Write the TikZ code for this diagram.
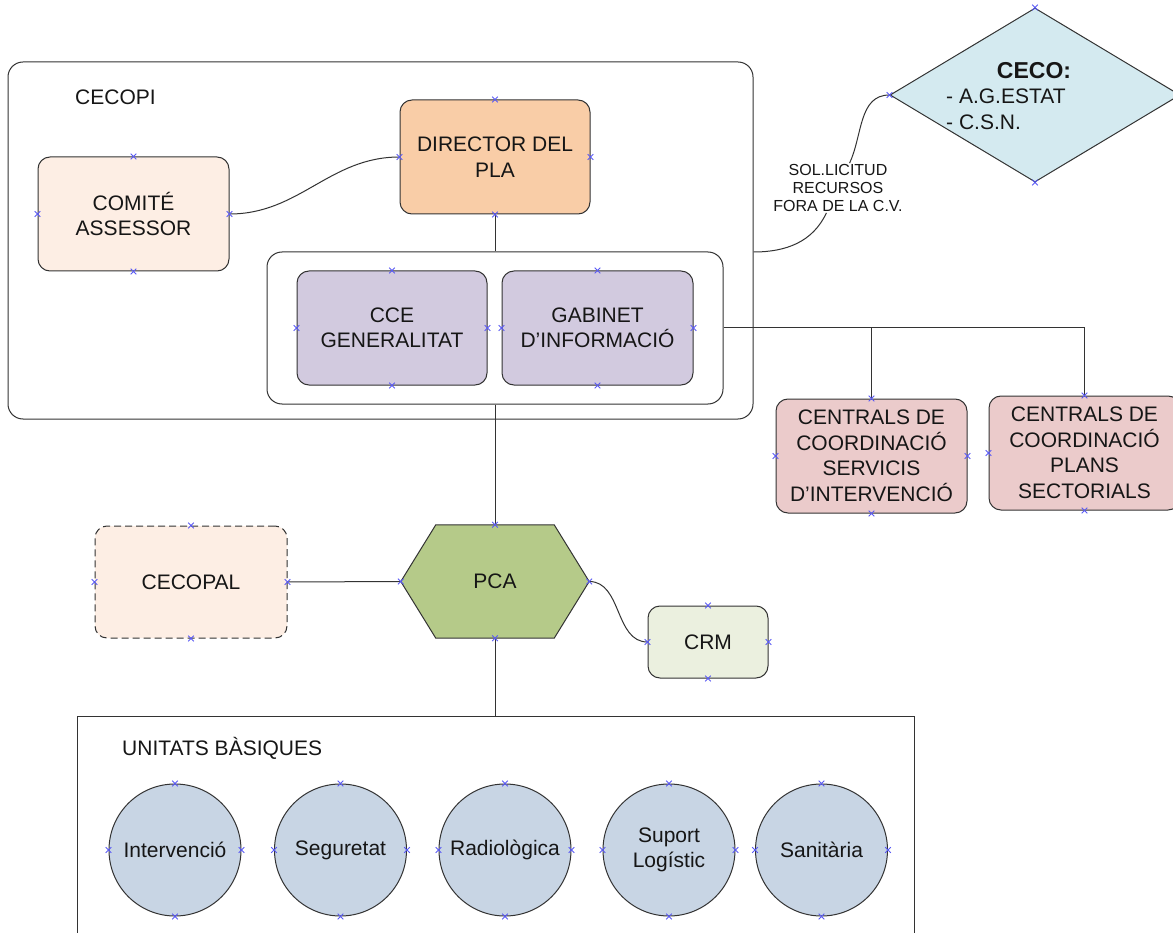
\documentclass[tikz,border=0pt]{standalone}
\usepackage{fontspec}
\setmainfont{Liberation Sans}
\usetikzlibrary{shapes.geometric}
\definecolor{lc}{HTML}{333333}
\definecolor{tc}{HTML}{161616}
\definecolor{xc}{HTML}{5A5AF5}
\definecolor{comfill}{HTML}{FDEEE4}
\definecolor{dirfill}{HTML}{F9CDA7}
\definecolor{lavfill}{HTML}{D2CADF}
\definecolor{redfill}{HTML}{EBCBCB}
\definecolor{cecofill}{HTML}{D4EAF0}
\definecolor{pcafill}{HTML}{B5CA89}
\definecolor{crmfill}{HTML}{EBF0DF}
\definecolor{circfill}{HTML}{C8D5E4}
\tikzset{
  base/.style={draw=lc, line width=1pt, text=tc, font=\fontsize{21}{25.5}\selectfont, align=center, inner sep=0pt},
  rbox/.style={base, rectangle, rounded corners=12pt},
  txt/.style={text=tc, font=\fontsize{21}{25.5}\selectfont, inner sep=0pt},
  smalllbl/.style={text=tc, font=\fontsize{16}{18}\selectfont, align=center, fill=white, inner sep=1pt},
  unit/.style={base, circle, fill=circfill, minimum size=132pt},
  conn/.style={draw=lc, line width=1pt},
  xmark/.style={draw=xc, line width=0.9pt},
}
\newcommand{\xmk}[1]{\draw[xmark] (#1) +(-2.8,-2.8) -- +(2.8,2.8) +(-2.8,2.8) -- +(2.8,-2.8);}
\newcommand{\xmks}[1]{\xmk{#1.north}\xmk{#1.south}\xmk{#1.east}\xmk{#1.west}}
\begin{document}
\begin{tikzpicture}[x=1pt,y=-1pt]
\clip (0,0) rectangle (1173,933);
\fill[white] (0,0) rectangle (1173,933);

% CECOPI
\node[base, rounded corners=15pt, minimum width=745pt, minimum height=357pt] (cecopi) at (380.5,240.5) {};
\node[txt, anchor=west] (cecopilbl) at (75,97) {CECOPI};
\node[rbox, fill=comfill, minimum width=191pt, minimum height=114pt] (comite) at (133.5,214) {COMITÉ\\ASSESSOR};
\node[rbox, fill=dirfill, minimum width=190pt, minimum height=114pt] (director) at (495,157) {DIRECTOR DEL\\PLA};
\node[base, rounded corners=15pt, minimum width=456pt, minimum height=152pt] (group) at (495,328) {};
\node[rbox, fill=lavfill, minimum width=190pt, minimum height=114pt] (cce) at (392,328) {CCE\\GENERALITAT};
\node[rbox, fill=lavfill, minimum width=191pt, minimum height=114pt] (gabinet) at (597.5,328) {GABINET\\D’INFORMACIÓ};

% centrals
\node[rbox, fill=redfill, minimum width=191pt, minimum height=114pt] (cent1) at (871.5,456) {CENTRALS DE\\COORDINACIÓ\\SERVICIS\\D’INTERVENCIÓ};
\node[rbox, fill=redfill, minimum width=191pt, minimum height=114pt] (cent2) at (1084.5,453) {CENTRALS DE\\COORDINACIÓ\\PLANS\\SECTORIALS};

% CECO
\node[base, diamond, fill=cecofill, minimum width=290pt, minimum height=174pt] (ceco) at (1035,95) {};
\node[txt, font=\bfseries\fontsize{23}{26}\selectfont] (cecotitle) at (1034,71) {CECO:};
\node[txt, anchor=west, align=left, font=\fontsize{21}{26}\selectfont] (cecolist) at (946,109) {- A.G.ESTAT\\- C.S.N.};

% SOL.LICITUD label
\node[smalllbl] (sollbl) at (838,188) {SOL.LICITUD\\RECURSOS\\FORA DE LA C.V.};

% PCA row
\node[rbox, fill=comfill, dashed, dash pattern=on 7pt off 4pt, minimum width=192pt, minimum height=112pt] (cecopal) at (191,582) {CECOPAL};
\node[txt, minimum width=188pt, minimum height=113pt] (pca) at (495,581.5) {};
\draw[conn, fill=pcafill] (pca.west) -- ([xshift=35pt]pca.north west) -- ([xshift=-35pt]pca.north east) -- (pca.east) -- ([xshift=-35pt]pca.south east) -- ([xshift=35pt]pca.south west) -- cycle;
\node[txt] (pcatxt) at (pca.center) {PCA};
\node[rbox, fill=crmfill, minimum width=120pt, minimum height=72pt] (crm) at (708,642) {CRM};

% UNITATS
\node[base, minimum width=837pt, minimum height=224pt] (unitats) at (495.5,828) {};
\node[txt, anchor=west] (unitatslbl) at (122,748) {UNITATS BÀSIQUES};
\node[unit] (u1) at (175,850) {Intervenció};
\node[unit] (u2) at (340.5,850) {Seguretat};
\node[unit] (u3) at (505,850) {Radiològica};
\node[unit] (u4) at (669,850) {Suport\\Logístic};
\node[unit] (u5) at (821.5,850) {Sanitària};

% connectors
\draw[conn] (comite.east) to[out=0,in=180] (director.west);
\draw[conn] (director.south) -- (group.north);
\draw[conn] (group.east) -- (cent2.north |- group.east) -- (cent2.north);
\draw[conn] (cent1.north |- group.east) -- (cent1.north);
\draw[conn] ([yshift=-11.5pt]cecopi.east) to[out=0,in=-115] (sollbl);
\draw[conn] (sollbl) to[out=65,in=180] (ceco.west);
\draw[conn] (group.south) -- (pca.north);
\draw[conn] (cecopal.east) -- (pca.west);
\draw[conn] (pca.east) to[out=0,in=180] (crm.west);
\draw[conn] (pca.south) -- (pca.south |- unitats.north);

% connection marks
\xmks{comite}
\xmks{director}
\xmks{cce}
\xmks{gabinet}
\xmks{cent1}
\xmk{cent2.north}\xmk{cent2.south}\xmk{cent2.west}
\xmk{ceco.north}\xmk{ceco.south}\xmk{ceco.west}
\xmks{cecopal}
\xmks{pca}
\xmks{crm}
\xmks{u1}\xmks{u2}\xmks{u3}\xmks{u4}\xmks{u5}
\end{tikzpicture}
\end{document}
